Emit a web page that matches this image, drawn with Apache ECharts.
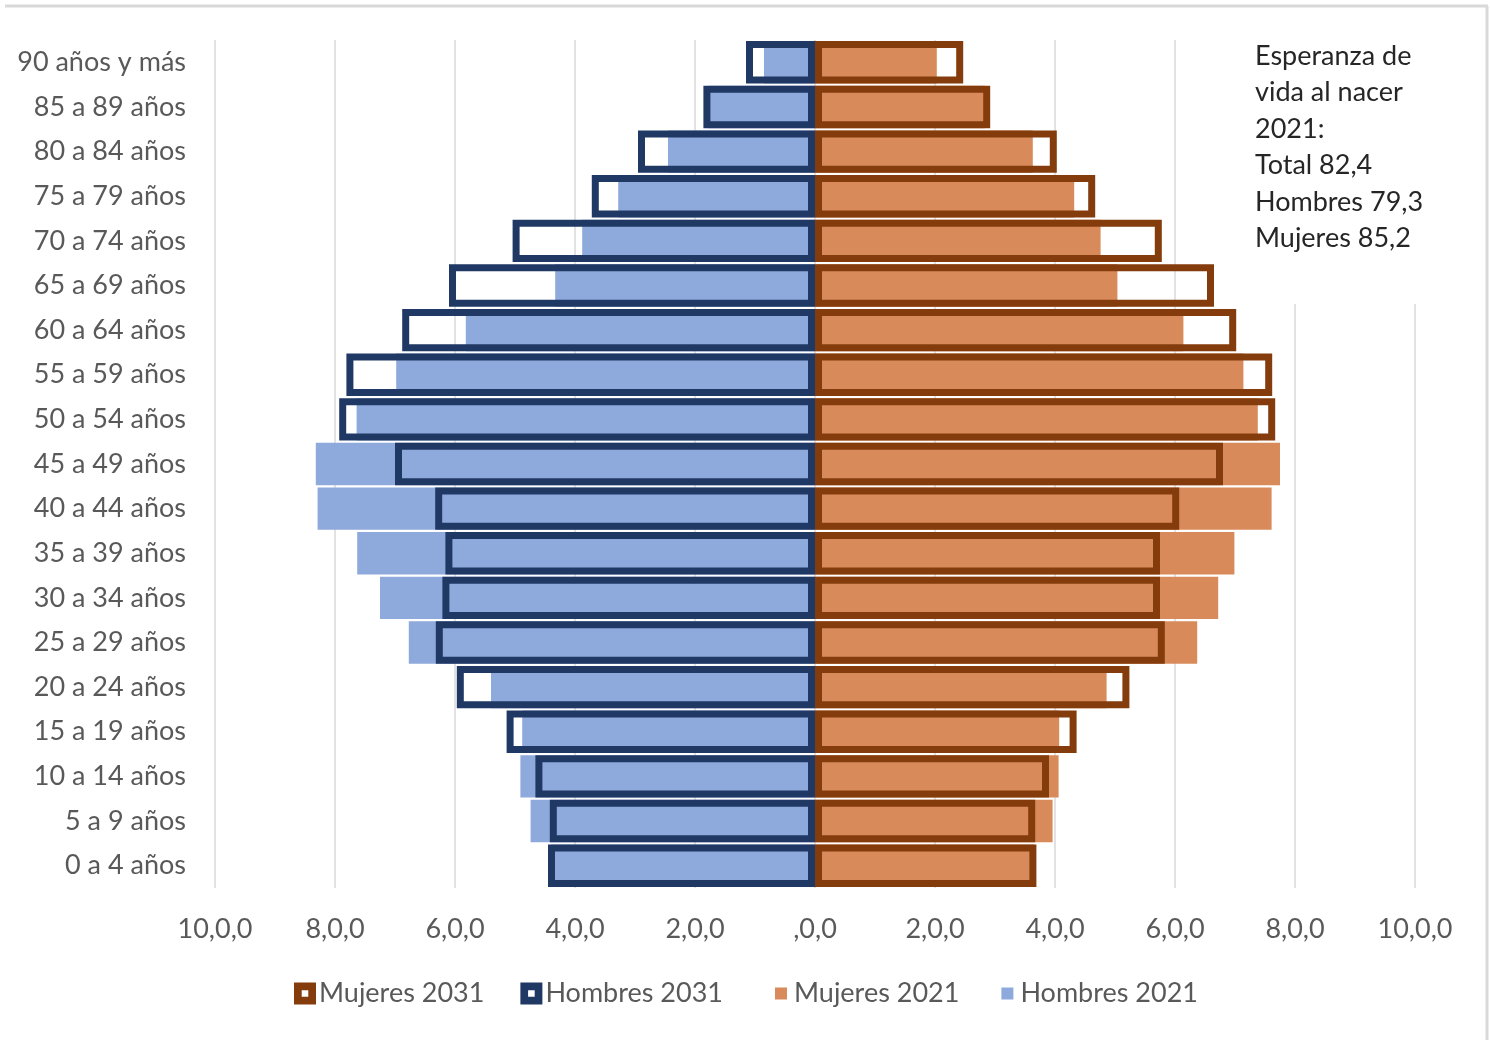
<!DOCTYPE html>
<html>
<head>
<meta charset="utf-8">
<script src="https://cdn.jsdelivr.net/npm/echarts@6/dist/echarts.min.js"></script>
<style>
html,body{margin:0;padding:0;background:#fff;}
#chart{width:1490px;height:1040px;}
</style>
</head>
<body>
<div id="chart"></div>
<script>
// Categories, bottom to top
const categories = ['0 a 4 años','5 a 9 años','10 a 14 años','15 a 19 años','20 a 24 años','25 a 29 años','30 a 34 años','35 a 39 años','40 a 44 años','45 a 49 años','50 a 54 años','55 a 59 años','60 a 64 años','65 a 69 años','70 a 74 años','75 a 79 años','80 a 84 años','85 a 89 años','90 años y más'];

const hombres2021 = [4.40,4.74,4.91,4.88,5.40,6.77,7.25,7.63,8.29,8.32,7.64,6.98,5.82,4.33,3.88,3.28,2.45,1.78,0.85];
const hombres2031 = [4.45,4.42,4.66,5.14,5.97,6.32,6.21,6.16,6.33,7.00,7.93,7.81,6.88,6.10,5.04,3.72,2.95,1.86,1.15];
const mujeres2021 = [3.65,3.96,4.06,4.07,4.86,6.37,6.72,6.99,7.61,7.75,7.38,7.14,6.14,5.04,4.76,4.32,3.63,2.83,2.03];
const mujeres2031 = [3.69,3.67,3.90,4.36,5.24,5.83,5.75,5.75,6.07,6.80,7.67,7.62,7.02,6.65,5.78,4.67,4.03,2.92,2.47];

const xTickLabels = ['10,0,0','8,0,0','6,0,0','4,0,0','2,0,0',',0,0','2,0,0','4,0,0','6,0,0','8,0,0','10,0,0'];

const annotationText = 'Esperanza de\nvida al nacer\n2021:\nTotal 82,4\nHombres 79,3\nMujeres 85,2';

const FONT = 'Lato';
const FS = 27;
const GREY = '#595959';
const C_H21 = '#8EA9DB';
const C_M21 = '#D88A5A';
const C_H31 = '#203864';
const C_M31 = '#843C0C';

const chart = echarts.init(document.getElementById('chart'), null, {renderer:'canvas'});

const outlineIcon = 'path://M0,0H20V20H0Z M7,7V13H13V7Z';

const option = {
  backgroundColor:'#ffffff',
  animation:false,
  grid:{left:215, right:75, top:40, bottom:152, containLabel:false},
  xAxis:{
    type:'value', min:-10, max:10, interval:2,
    axisLine:{show:false}, axisTick:{show:false},
    splitLine:{show:true, lineStyle:{color:'#D9D9D9', width:1.5}},
    axisLabel:{
      color:GREY, fontFamily:FONT, fontSize:FS, margin:28,
      formatter:function(v){ return xTickLabels[Math.round((v+10)/2)]; }
    }
  },
  yAxis:{
    type:'category', data:categories,
    axisLine:{show:false}, axisTick:{show:false},
    axisLabel:{color:GREY, fontFamily:FONT, fontSize:FS, margin:29, interval:0}
  },
  legend:[
    {
      left:289, top:975, itemWidth:22, itemHeight:22, itemGap:36,
      textStyle:{color:GREY, fontFamily:FONT, fontSize:FS, padding:[0,0,0,-2]},
      data:[
        {name:'Mujeres 2031', icon:outlineIcon, itemStyle:{color:C_M31, borderWidth:0}},
        {name:'Hombres 2031', icon:outlineIcon, itemStyle:{color:C_H31, borderWidth:0}}
      ]
    },
    {
      left:770, top:975, itemWidth:12, itemHeight:12, itemGap:42,
      textStyle:{color:GREY, fontFamily:FONT, fontSize:FS, padding:[0,0,0,2]},
      data:[
        {name:'Mujeres 2021', icon:'rect'},
        {name:'Hombres 2021', icon:'rect'}
      ]
    }
  ],
  series:[
    {
      name:'Hombres 2021', type:'bar', barGap:'-100%', barCategoryGap:'5%',
      data:hombres2021.map(v=>-v),
      itemStyle:{color:C_H21}
    },
    {
      name:'Mujeres 2021', type:'bar', barGap:'-100%', barCategoryGap:'5%',
      data:mujeres2021,
      itemStyle:{color:C_M21}
    },
    {
      name:'Hombres 2031', type:'bar', barGap:'-100%', barCategoryGap:'5%',
      data:hombres2031.map(v=>-v),
      itemStyle:{color:'rgba(0,0,0,0)', borderColor:C_H31, borderWidth:7}
    },
    {
      name:'Mujeres 2031', type:'bar', barGap:'-100%', barCategoryGap:'5%',
      data:mujeres2031,
      itemStyle:{color:'rgba(0,0,0,0)', borderColor:C_M31, borderWidth:7}
    }
  ],
  graphic:[
    {type:'rect', left:1245, top:34, z:50, shape:{width:235, height:270}, style:{fill:'#ffffff'}},
    {type:'text', left:1255, top:38, z:51, style:{text:annotationText, fill:'#262626', font:FS + 'px Lato', lineHeight:36.4}},
    {type:'line', z:60, shape:{x1:5, y1:6, x2:1488, y2:6}, style:{stroke:'#D9D9D9', lineWidth:3}},
    {type:'line', z:60, shape:{x1:1487, y1:6, x2:1487, y2:1040}, style:{stroke:'#D9D9D9', lineWidth:3}}
  ]
};
chart.setOption(option);
</script>
</body>
</html>
